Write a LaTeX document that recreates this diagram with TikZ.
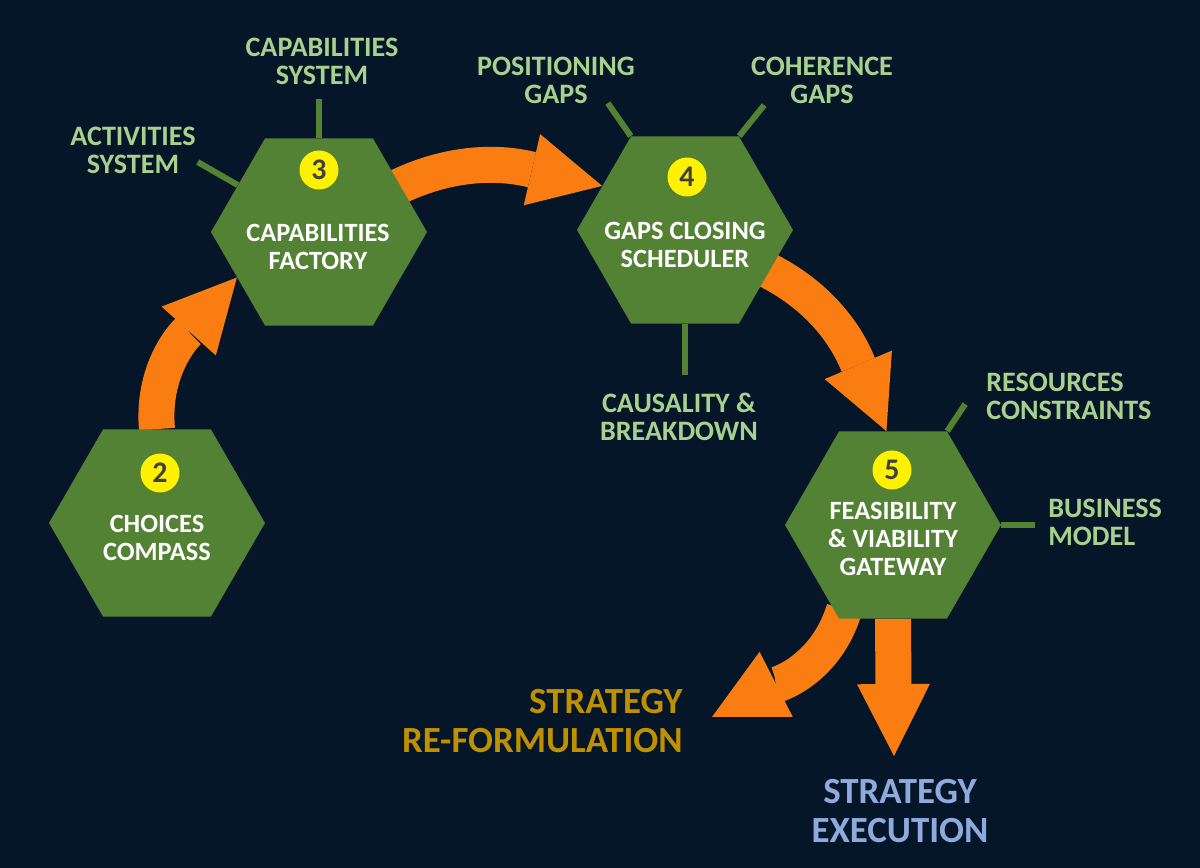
\documentclass[tikz,border=0pt]{standalone}
\usepackage{fontspec}
\setmainfont{Carlito}
\usetikzlibrary{shapes.geometric,arrows.meta,calc}
\definecolor{navy}{HTML}{061629}
\definecolor{hexgreen}{HTML}{548235}
\definecolor{labgreen}{HTML}{A9D18E}
\definecolor{arrorange}{HTML}{FA7D12}
\definecolor{numgray}{HTML}{404040}
\definecolor{reformgold}{HTML}{BF9000}
\definecolor{execblue}{HTML}{8FAADC}
\pgfdeclarelayer{back}
\pgfdeclarelayer{arrows}
\pgfsetlayers{back,arrows,main}

\begin{document}
\begin{tikzpicture}[x=0.02cm, y=0.02cm,
    hexa/.style={regular polygon, regular polygon sides=6, minimum size=4.32cm,
      inner sep=0pt, fill=hexgreen},
    numdot/.style={circle, fill=yellow, minimum size=0.78cm, inner sep=0pt,
      text=numgray, font=\bfseries\fontsize{17}{17}\selectfont},
    hextext/.style={text=white, align=center, inner sep=0pt,
      font=\bfseries\fontsize{15}{16}\selectfont},
    lab/.style={text=labgreen, inner sep=0pt,
      font=\bfseries\fontsize{16}{16}\selectfont},
    stub/.style={hexgreen, line width=0.12cm},
    bigarrow/.style={arrorange, line width=0.72cm,
      -{Triangle[length=1.44cm, width=1.46cm, line width=0pt]}},
    outcome/.style={inner sep=0pt, font=\bfseries\fontsize{21}{22}\selectfont}]
    \useasboundingbox (0,0) rectangle (1200,868);
    \begin{pgfonlayer}{back}
      \fill[navy] (0,0) rectangle (1200,868);
    \end{pgfonlayer}
    % Hexagons
    \node[hexa] (hex2) at (157,345) {};
    \node[hexa] (hex3) at (319,636) {};
    \node[hexa] (hex4) at (685,638) {};
    \node[hexa] (hex5) at (893,343) {};
    % Step numbers
    \node[numdot] (n2) at (160,395) {2};
    \node[numdot] (n3) at (319,698) {3};
    \node[numdot] (n4) at (687,691) {4};
    \node[numdot] (n5) at (892,398) {5};
    % Hexagon texts
    \node[hextext] (t2) at (157,330) {CHOICES\\COMPASS};
    \node[hextext] (t3) at (318,621) {CAPABILITIES\\FACTORY};
    \node[hextext] (t4) at (685,623) {GAPS CLOSING\\SCHEDULER};
    \node[hextext] (t5) at (893,329) {FEASIBILITY\\\& VIABILITY\\GATEWAY};
    % Side labels
    \node[lab, align=center] (capsys) at (322,807) {CAPABILITIES\\SYSTEM};
    \node[lab, align=center] (actsys) at (133,718) {ACTIVITIES\\SYSTEM};
    \node[lab, align=center] (posgaps) at (556,788) {POSITIONING\\GAPS};
    \node[lab, align=center] (cohgaps) at (822,788) {COHERENCE\\GAPS};
    \node[lab, align=center] (causal) at (679,451) {CAUSALITY \&\\BREAKDOWN};
    \node[lab, align=left, anchor=west] (resource) at (986,472) {RESOURCES\\CONSTRAINTS};
    \node[lab, align=left, anchor=west] (business) at (1048,346) {BUSINESS\\MODEL};
    % Stubs
    \draw[stub] (hex3.north) -- ++(0,39);
    \draw[stub] (hex3.150) -- ++(-40,23);
    \draw[stub] (hex4.120) -- ++(-23,33);
    \draw[stub] (hex4.60) -- ++(25,31);
    \draw[stub] (hex4.south) -- ++(0,-51);
    \draw[stub] (hex5.60) -- ++(18,27);
    \draw[stub] (hex5.east) -- ++(34,0);
    % Outcomes
    \coordinate (reformtip) at (712,151);
    \coordinate (exectip) at (894,112);
    \node[outcome, text=reformgold, align=right, anchor=east] (reform) at (683,147)
      {STRATEGY\\RE-FORMULATION};
    \node[outcome, text=execblue, align=center] (exec) at (900,57)
      {STRATEGY\\EXECUTION};
    % Flow arrows
    \begin{pgfonlayer}{arrows}
      \draw[bigarrow] (hex2.north) to[out=95, in=228] (hex3.209);
      \draw[bigarrow] ($(hex3.center)!0.9!(hex3.30)$) to[out=27, in=167] (hex4.152);
      \draw[bigarrow] ($(hex4.center)!0.9!(hex4.-26)$) to[out=-25, in=113] (hex5.94);
      \draw[bigarrow] ($(hex5.center)!0.9!(hex5.240)$) to[out=253, in=27] (reformtip);
      \draw[bigarrow] (hex5.south) -- (exectip);
    \end{pgfonlayer}
\end{tikzpicture}
\end{document}
